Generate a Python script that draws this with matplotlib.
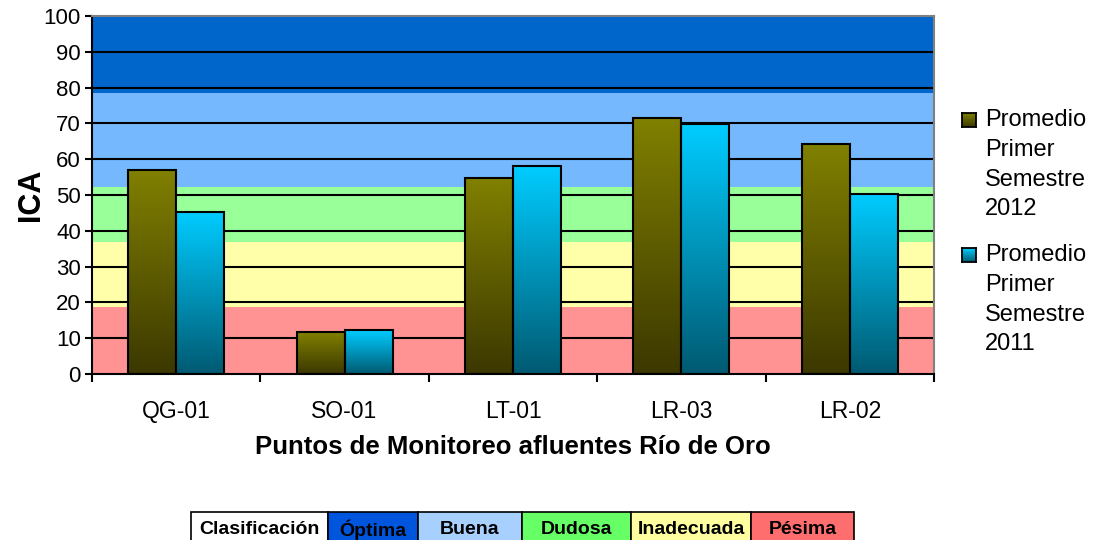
import numpy as np
import matplotlib
matplotlib.use('Agg')
import matplotlib.pyplot as plt
from matplotlib.patches import Rectangle

plt.rcParams['font.family'] = ['Liberation Sans', 'DejaVu Sans']

puntos = ['QG-01', 'SO-01', 'LT-01', 'LR-03', 'LR-02']
prom_2012 = [57.0, 11.7, 54.7, 71.6, 64.2]
prom_2011 = [45.2, 12.2, 58.1, 69.8, 50.3]
series = ['Promedio\nPrimer\nSemestre\n2012', 'Promedio\nPrimer\nSemestre\n2011']

# bandas de clasificacion (limite inferior, limite superior, color)
bandas = [(0, 18.8, '#ff9393'), (18.8, 37, '#ffffaa'), (37, 52.3, '#99ff99'),
          (52.3, 78.5, '#75b8fd'), (78.5, 100, '#0066cc')]
clases = ['Clasificación', 'Óptima', 'Buena', 'Dudosa', 'Inadecuada', 'Pésima']
clases_col = ['white', '#0055dd', '#a8d0ff', '#66ff66', '#ffffa0', '#ff6e6e']

W, H = 1097, 540
fig = plt.figure(figsize=(W / 100, H / 100), dpi=100)
ax = fig.add_axes([92 / W, (H - 374) / H, (934 - 92) / W, (374 - 16) / H])

for lo, hi, c in bandas:
    ax.axhspan(lo, hi, color=c, lw=0, zorder=0)
for y in range(10, 100, 10):
    ax.axhline(y, color='black', lw=1.5, zorder=1)


def gradiente(top, bot):
    t = np.linspace(0, 1, 100)[:, None, None]
    top = np.array(matplotlib.colors.to_rgb(top))
    bot = np.array(matplotlib.colors.to_rgb(bot))
    return np.repeat(top * (1 - t) + bot * t, 2, axis=1)


def grad_bar(x0, w, h, top, bot):
    ax.imshow(gradiente(top, bot), extent=[x0, x0 + w, 0, h], aspect='auto',
              zorder=2, interpolation='bilinear')
    ax.add_patch(Rectangle((x0, 0), w, h, fill=False, ec='black', lw=1.5, zorder=3))


colores = [('#808000', '#3c3800'), ('#00ccff', '#005a72')]
bw = 0.285
x = np.arange(len(puntos))
for i in x:
    grad_bar(i - bw, bw, prom_2012[i], *colores[0])
    grad_bar(i, bw, prom_2011[i], *colores[1])

ax.set_xlim(-0.5, len(puntos) - 0.5)
ax.set_ylim(0, 100)
ax.set_yticks(range(0, 101, 10))
ax.set_xticks(x)
ax.set_xticklabels(puntos, fontsize=16.5)
ax.set_xticks(np.arange(-0.5, len(puntos)), minor=True)
ax.tick_params(axis='x', which='major', length=0, pad=19)
ax.tick_params(axis='x', which='minor', length=6, width=1.5, direction='out')
ax.tick_params(axis='y', labelsize=16, length=5, width=1.5, direction='out', pad=3)
ax.spines['left'].set_linewidth(1.5)
ax.spines['bottom'].set_linewidth(1.5)
for s in ['top', 'right']:
    ax.spines[s].set_color('#808080')
    ax.spines[s].set_linewidth(1.5)

ax.set_ylabel('ICA', fontsize=22, fontweight='bold')
ax.yaxis.set_label_coords(-46 / 842, 0.5)
ax.set_xlabel('Puntos de Monitoreo afluentes Río de Oro', fontsize=18.5,
              fontweight='bold', labelpad=8)

# leyenda
for k, (nombre, (top, bot)) in enumerate(zip(series, colores)):
    yc = 120 + k * 135
    lax = fig.add_axes([962 / W, 1 - (yc + 7) / H, 14 / W, 14 / H])
    lax.imshow(gradiente(top, bot), aspect='auto', extent=[0, 1, 0, 1])
    lax.set_xticks([])
    lax.set_yticks([])
    for s in lax.spines.values():
        s.set_linewidth(1.3)
    for j, linea in enumerate(nombre.split('\n')):
        fig.text(985 / W, 1 - (yc + j * 29.8) / H, linea, fontsize=17,
                 ha='left', va='center')

# tabla de clasificacion
bordes = [191, 328, 418, 522, 631, 751, 854]
y0, y1 = 512, 548
for k, (nom, col) in enumerate(zip(clases, clases_col)):
    xa, xb = bordes[k], bordes[k + 1]
    fig.patches.append(Rectangle((xa / W, 1 - y1 / H), (xb - xa) / W, (y1 - y0) / H,
                                 transform=fig.transFigure, fc=col, ec='black', lw=1.2))
    fig.text((xa + xb) / 2 / W, 1 - 530 / H, nom, ha='center', va='center',
             fontsize=14, fontweight='bold',
             family=['Liberation Sans Narrow', 'Liberation Sans', 'DejaVu Sans'])

fig.savefig('out.png', dpi=100)
